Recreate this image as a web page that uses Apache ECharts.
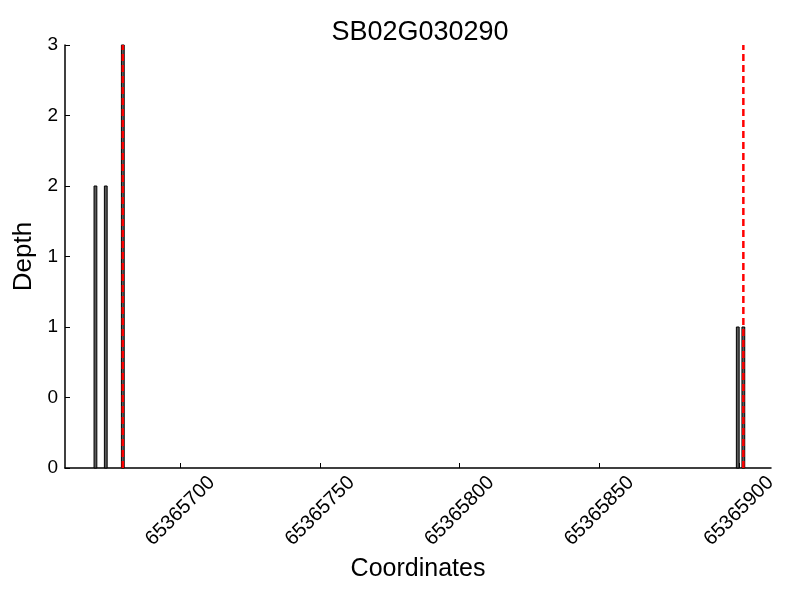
<!DOCTYPE html>
<html>
<head>
<meta charset="utf-8">
<script src="https://cdn.jsdelivr.net/npm/echarts@6/dist/echarts.min.js"></script>
<style>html,body{margin:0;padding:0;background:#fff;}#c{width:800px;height:600px;}</style>
</head>
<body>
<div id="c"></div>
<script>
const title = "SB02G030290";
const positions = [65365669.6, 65365673.3, 65365679.4, 65365899.6, 65365901.6];
const depths = [2, 2, 3, 1, 1];
const markerPositions = [65365679.4, 65365901.6];
const xTicks = [65365700, 65365750, 65365800, 65365850, 65365900];
const yTicks = [0, 0.5, 1, 1.5, 2, 2.5, 3];

const chart = echarts.init(document.getElementById('c'), null, {renderer: 'canvas'});
const font = 'Liberation Sans, Arial, sans-serif';

const series = [{
  type: 'custom',
  renderItem: function (params, api) {
    const xc = api.value(0), h = api.value(1);
    const p0 = api.coord([xc - 0.5, 0]);
    const p1 = api.coord([xc + 0.5, h]);
    return {
      type: 'rect',
      shape: {x: p0[0], y: p1[1], width: p1[0] - p0[0], height: p0[1] - p1[1]},
      style: {fill: '#5a5a5a', stroke: '#000', lineWidth: 1}
    };
  },
  data: positions.map((p, i) => [p, depths[i]]),
  z: 2
}];
markerPositions.forEach(m => {
  series.push({
    type: 'line',
    data: [[m, 0], [m, 3]],
    symbol: 'none',
    lineStyle: {color: '#ff0000', width: 2.5, type: [7, 4]},
    z: 5,
    silent: true
  });
});

chart.setOption({
  animation: false,
  backgroundColor: '#fff',
  title: {
    text: title, left: 415, top: 14, textAlign: 'center',
    textStyle: {fontFamily: font, fontSize: 27, fontWeight: 'normal', color: '#000'}
  },
  grid: {left: 65, right: 29, top: 45, bottom: 132},
  xAxis: {
    type: 'value',
    min: 65365658.7, max: 65365911.5,
    name: 'Coordinates', nameLocation: 'middle', nameGap: 87,
    nameTextStyle: {fontFamily: font, fontSize: 25, color: '#000'},
    axisLine: {show: true, onZero: false, lineStyle: {color: '#000', width: 1.5}},
    axisTick: {show: true, inside: true, length: 5, lineStyle: {color: '#000'},
      customValues: xTicks},
    axisLabel: {rotate: 45, align: 'center', verticalAlign: 'middle',
      fontFamily: font, fontSize: 20, color: '#000', margin: 43,
      customValues: xTicks, formatter: v => String(Math.round(v))},
    splitLine: {show: false}
  },
  yAxis: {
    type: 'value', min: 0, max: 3, interval: 0.5,
    name: 'Depth', nameLocation: 'middle', nameGap: 21,
    nameTextStyle: {fontFamily: font, fontSize: 26, color: '#000'},
    axisLine: {show: true, lineStyle: {color: '#000', width: 1.5}},
    axisTick: {show: true, inside: true, length: 5, lineStyle: {color: '#000'}},
    axisLabel: {fontFamily: font, fontSize: 19, color: '#000', margin: 7,
      formatter: v => String(Math.trunc(v))},
    splitLine: {show: false}
  },
  series: series
});
</script>
</body>
</html>
